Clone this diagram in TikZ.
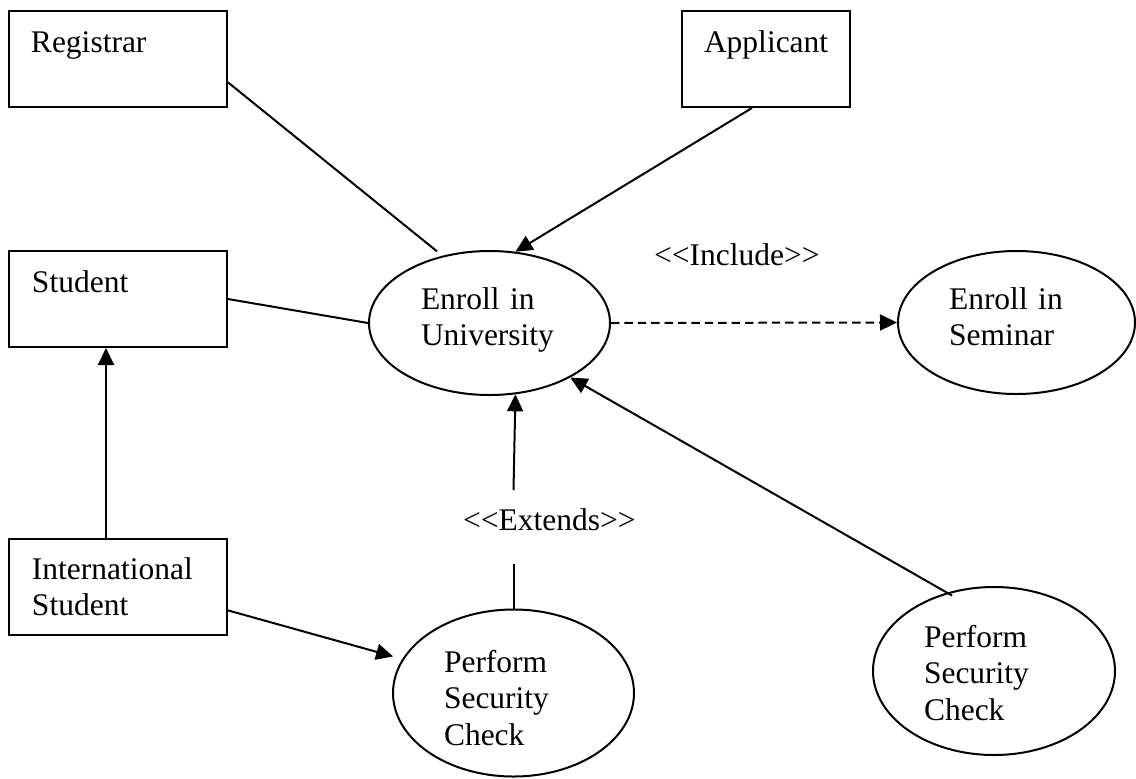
\documentclass[tikz,border=0pt]{standalone}
\usepackage{fontspec}
\setmainfont{Liberation Serif}[Ligatures=TeXOff]
\usetikzlibrary{shapes.geometric,arrows.meta}
\begin{document}
\begin{tikzpicture}[x=0.5pt,y=-0.5pt,
  line width=1pt,
  actor/.style={draw, rectangle, inner sep=0pt, minimum height=48pt},
  usecase/.style={draw, ellipse, inner sep=0pt},
  lbl/.style={anchor=base west, inner sep=0pt, text width=90pt, align=left,
    font=\fontsize{15.75pt}{18.25pt}\selectfont},
  arrowline/.style={-{Triangle[length=8.5pt,width=8pt]}},
  includeline/.style={arrowline, dash pattern=on 4.2pt off 2.5pt},
]
\useasboundingbox (0,0) rectangle (1136,778);

% actors
\node[actor, minimum width=109pt] (reg)  at (118,59)  {};
\node[actor, minimum width=84pt]  (app)  at (766,59)  {};
\node[actor, minimum width=109pt] (stu)  at (118,299) {};
\node[actor, minimum width=109pt] (intl) at (118,587) {};

% use cases
\node[usecase, minimum width=120.5pt, minimum height=72pt]   (eu)   at (489.5,323)   {};
\node[usecase, minimum width=118.5pt, minimum height=71.5pt] (sem)  at (1016.5,322.5) {};
\node[usecase, minimum width=120.5pt, minimum height=83.5pt] (psc1) at (513.5,693)   {};
\node[usecase, minimum width=121pt,   minimum height=84pt]   (psc2) at (994,671)     {};

% names
\node[lbl] (regname)  at (30,52)   {Registrar};
\node[lbl] (appname)  at (703,52)  {Applicant};
\node[lbl] (stuname)  at (31,292)  {Student};
\node[lbl] (intlname) at (31,579)  {International\\Student};
\node[lbl] (euname)   at (420,309) {Enroll in\\University};
\node[lbl] (semname)  at (948,309) {Enroll in\\Seminar};
\node[lbl] (p1name)   at (443,672) {Perform\\Security\\Check};
\node[lbl] (p2name)   at (923,647) {Perform\\Security\\Check};
\node[lbl] (incl)     at (653,265) {<\kern0pt<Include>\kern0pt>};
\node[lbl] (ext)      at (462,530) {<\kern0pt<Extends>\kern0pt>};

% associations
\draw[shorten >=3.5pt] (reg.-12.4) -- (eu.125.7);
\draw[arrowline] (app.254.85) -- (eu.70.7);
\draw (stu.east) -- (eu.west);

% generalisation
\draw[arrowline] ([xshift=-6pt]intl.north) -- ([xshift=-6pt]stu.south);
\draw[arrowline, shorten >=4.75pt] (intl.-12.4) -- (psc1.163);

% include
\draw[includeline] (eu.east) -- (sem.west);

% extends, broken around its label
\coordinate (extlow)  at (513.5,564);
\coordinate (exthigh) at (513.5,490);
\draw (psc1.north) -- (extlow);
\draw[arrowline] (exthigh) -- (eu.-70.8);

\draw[arrowline, shorten <=-3pt] (psc2.121.3) -- (eu.-34.6);
\end{tikzpicture}
\end{document}
